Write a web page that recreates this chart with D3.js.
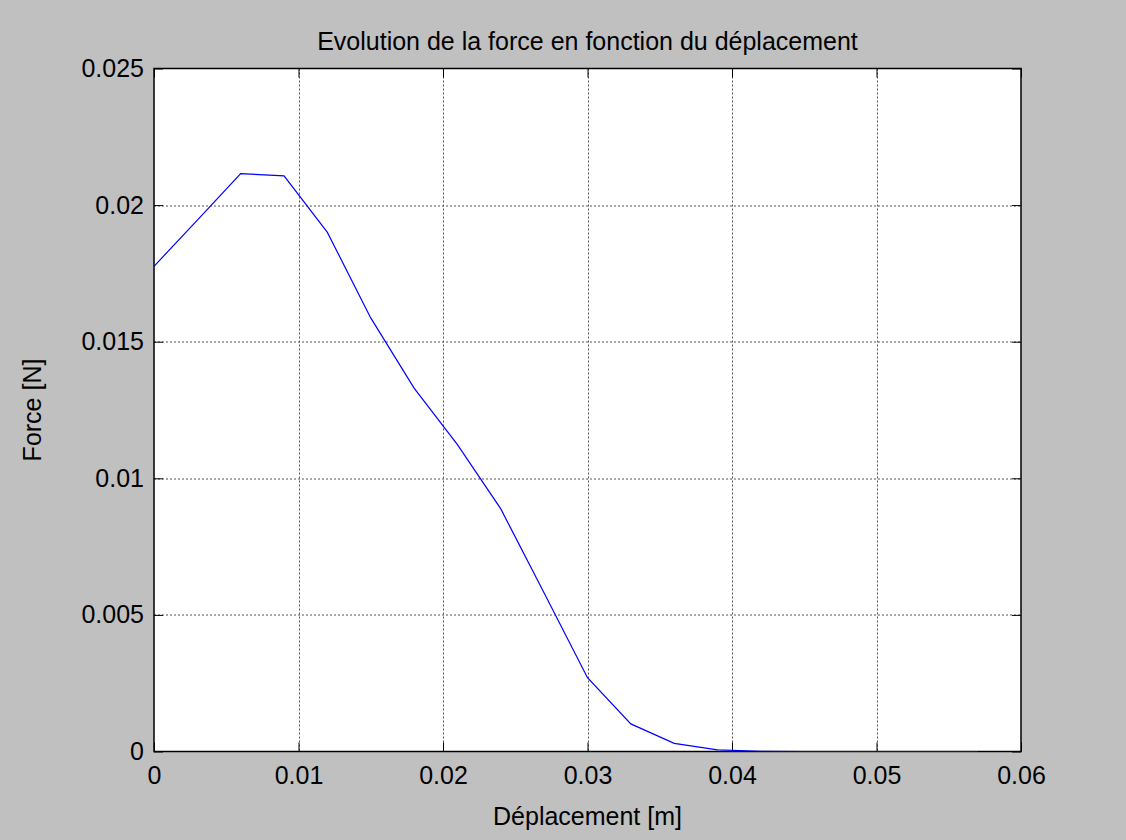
<!DOCTYPE html>
<html>
<head>
<meta charset="utf-8">
<style>
  body { margin:0; background:#c0c0c0; }
  svg { display:block; font-family:"Liberation Sans", Arial, sans-serif; }
</style>
</head>
<body>
<svg id="plot"></svg>
<script src="https://d3js.org/d3.v7.min.js"></script>
<script>

// displacement [m]
var deplacement = [0, 0.003, 0.006, 0.009, 0.012, 0.015, 0.018, 0.021, 0.024, 0.027,
                   0.030, 0.033, 0.036, 0.039, 0.042, 0.045, 0.048, 0.051, 0.054, 0.057]
// force [N]
var force = [0.01776, 0.01945, 0.02115, 0.02107, 0.0190, 0.01587, 0.0133, 0.01123, 0.00888, 0.0058,
             0.0027, 0.00101, 0.0003, 0.00006, 0.00001, 0, 0, 0, 0, 0]

var xTicks = [0, 0.01, 0.02, 0.03, 0.04, 0.05, 0.06]
var yTicks = [0, 0.005, 0.01, 0.015, 0.02, 0.025]

var titre = "Evolution de la force en fonction du déplacement"
var xLabel = "Déplacement [m]"
var yLabel = "Force [N]"

var screen = {width:1126, height:840}
var margins = {top:68.5, left:154, right:105, bottom:88.5}
var graph = {
    width: screen.width - margins.left - margins.right,
    height: screen.height - margins.top - margins.bottom
}

var svg = d3.select("#plot")
    .attr("width", screen.width)
    .attr("height", screen.height)

svg.append("rect")
    .attr("width", screen.width)
    .attr("height", screen.height)
    .attr("fill", "#c0c0c0")

var xScale = d3.scaleLinear().domain([0, 0.06]).range([0, graph.width])
var yScale = d3.scaleLinear().domain([0, 0.025]).range([graph.height, 0])

var g = svg.append("g")
    .attr("transform", "translate(" + margins.left + "," + margins.top + ")")

// plot area
g.append("rect")
    .attr("width", graph.width)
    .attr("height", graph.height)
    .attr("fill", "white")

// dotted grid
g.append("g").selectAll("line")
    .data(xTicks.slice(1, -1))
    .enter().append("line")
    .attr("x1", d => Math.round(xScale(d)) + 0.5)
    .attr("x2", d => Math.round(xScale(d)) + 0.5)
    .attr("y1", 0).attr("y2", graph.height)
    .attr("stroke", "#555").attr("stroke-dasharray", "2,2")

g.append("g").selectAll("line")
    .data(yTicks.slice(1, -1))
    .enter().append("line")
    .attr("y1", d => Math.round(yScale(d)) + 0.5)
    .attr("y2", d => Math.round(yScale(d)) + 0.5)
    .attr("x1", 0).attr("x2", graph.width)
    .attr("stroke", "#555").attr("stroke-dasharray", "2,2")

// axes (ticks point inward, mirrored on top/right)
var fmt = d => String(d)

var xAxis = g.append("g")
    .attr("transform", "translate(0," + graph.height + ")")
    .call(d3.axisBottom(xScale).tickValues(xTicks).tickFormat(fmt).tickSize(-9).tickPadding(15))
var yAxis = g.append("g")
    .call(d3.axisLeft(yScale).tickValues(yTicks).tickFormat(fmt).tickSize(-9).tickPadding(10))
g.append("g")
    .call(d3.axisTop(xScale).tickValues(xTicks).tickFormat("").tickSize(-9))
g.append("g")
    .attr("transform", "translate(" + graph.width + ",0)")
    .call(d3.axisRight(yScale).tickValues(yTicks).tickFormat("").tickSize(-9))

g.selectAll(".domain").remove()
g.selectAll(".tick line").attr("stroke", "#000")
g.selectAll(".tick text")
    .attr("font-family", "Liberation Sans, Arial, sans-serif")
    .attr("font-size", 25)
    .attr("fill", "#000")

// box
g.append("rect")
    .attr("width", graph.width)
    .attr("height", graph.height)
    .attr("fill", "none")
    .attr("stroke", "#000")
    .attr("stroke-width", 1.5)

// curve
var line = d3.line()
    .x((d, i) => xScale(deplacement[i]))
    .y(d => yScale(d))

g.append("path")
    .datum(force)
    .attr("d", line)
    .attr("fill", "none")
    .attr("stroke", "#0000ff")
    .attr("stroke-width", 1.2)

// labels
svg.append("text")
    .attr("x", margins.left + graph.width / 2)
    .attr("y", 50)
    .attr("text-anchor", "middle")
    .attr("font-size", 25)
    .text(titre)

svg.append("text")
    .attr("x", margins.left + graph.width / 2)
    .attr("y", 825)
    .attr("text-anchor", "middle")
    .attr("font-size", 25)
    .text(xLabel)

svg.append("text")
    .attr("transform", "translate(41," + (margins.top + graph.height / 2) + ") rotate(-90)")
    .attr("text-anchor", "middle")
    .attr("font-size", 25)
    .text(yLabel)

</script>
</body>
</html>
